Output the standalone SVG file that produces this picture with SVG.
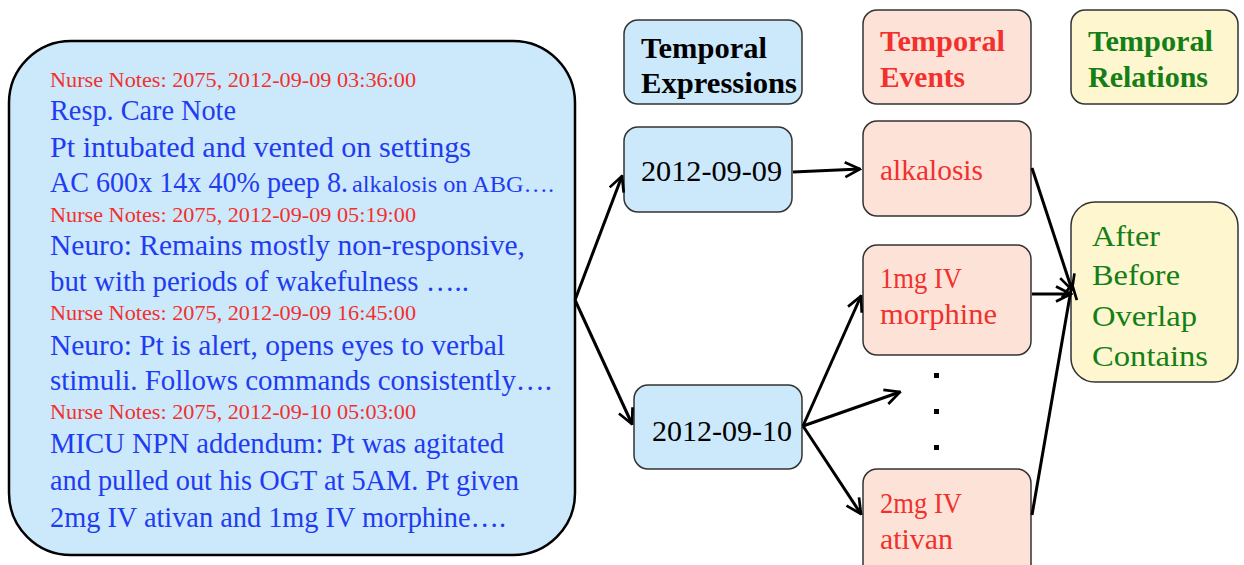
<svg xmlns="http://www.w3.org/2000/svg" width="1244" height="565" viewBox="0 0 1244 565">
  <style>
    .serif { font-family: "Liberation Serif", "DejaVu Serif", serif; }
    .note-head { fill: #f2302d; font-size: 20.5px; }
    .note-body { fill: #1f3cf2; font-size: 28.5px; }
    .note-small { font-size: 23px; }
    .hdr { font-size: 30px; font-weight: bold; }
    .item { font-size: 28.5px; }
    .box { stroke: #333; stroke-width: 1.5; }
    .expr { fill: #cce8fb; }
    .event { fill: #fde3d7; }
    .rel { fill: #fdf6cf; }
    .red { fill: #f2302d; }
    .green { fill: #157f17; }
    .black { fill: #000; }
    .conn { stroke: #000; stroke-width: 3; fill: none; }
  </style>
  <defs>
    <marker id="chev" viewBox="0 0 12 12" refX="11" refY="6" markerWidth="6" markerHeight="6" orient="auto" markerUnits="strokeWidth">
      <path d="M1,1 L11,6 L1,11" fill="none" stroke="#000" stroke-width="1.8"/>
    </marker>
  </defs>

  <!-- nursing notes document -->
  <g id="notes" class="serif">
    <rect x="9" y="41" width="566" height="514" rx="62" fill="#cce8fb" stroke="#000" stroke-width="2.5"/>
    <text class="note-head" x="50" y="87" textLength="366" lengthAdjust="spacingAndGlyphs">Nurse Notes: 2075, 2012-09-09 03:36:00</text>
    <text class="note-body" x="50" y="120" textLength="186" lengthAdjust="spacingAndGlyphs">Resp. Care Note</text>
    <text class="note-body" x="50" y="157" textLength="421" lengthAdjust="spacingAndGlyphs">Pt intubated and vented on settings</text>
    <text class="note-body" x="50" y="192" textLength="298" lengthAdjust="spacingAndGlyphs">AC 600x 14x 40% peep 8.</text>
    <text class="note-body note-small" x="352" y="192" textLength="202" lengthAdjust="spacingAndGlyphs">alkalosis on ABG….</text>
    <text class="note-head" x="50" y="222" textLength="366" lengthAdjust="spacingAndGlyphs">Nurse Notes: 2075, 2012-09-09 05:19:00</text>
    <text class="note-body" x="50" y="255" textLength="475" lengthAdjust="spacingAndGlyphs">Neuro: Remains mostly non-responsive,</text>
    <text class="note-body" x="50" y="291" textLength="419" lengthAdjust="spacingAndGlyphs">but with periods of wakefulness …..</text>
    <text class="note-head" x="50" y="320" textLength="366" lengthAdjust="spacingAndGlyphs">Nurse Notes: 2075, 2012-09-09 16:45:00</text>
    <text class="note-body" x="50" y="355" textLength="455" lengthAdjust="spacingAndGlyphs">Neuro: Pt is alert, opens eyes to verbal</text>
    <text class="note-body" x="50" y="390" textLength="502" lengthAdjust="spacingAndGlyphs">stimuli. Follows commands consistently….</text>
    <text class="note-head" x="50" y="419" textLength="366" lengthAdjust="spacingAndGlyphs">Nurse Notes: 2075, 2012-09-10 05:03:00</text>
    <text class="note-body" x="50" y="453" textLength="454" lengthAdjust="spacingAndGlyphs">MICU NPN addendum: Pt was agitated</text>
    <text class="note-body" x="50" y="490" textLength="469" lengthAdjust="spacingAndGlyphs">and pulled out his OGT at 5AM. Pt given</text>
    <text class="note-body" x="50" y="527" textLength="456" lengthAdjust="spacingAndGlyphs">2mg IV ativan and 1mg IV morphine….</text>
  </g>

  <!-- column headers -->
  <g id="hdr-expressions" class="serif">
    <rect class="box expr" x="624" y="20" width="178" height="84" rx="14"/>
    <text class="hdr black" x="641" y="58" textLength="126" lengthAdjust="spacingAndGlyphs">Temporal</text>
    <text class="hdr black" x="641" y="93" textLength="156" lengthAdjust="spacingAndGlyphs">Expressions</text>
  </g>
  <g id="hdr-events" class="serif">
    <rect class="box event" x="863" y="10" width="168" height="94" rx="14"/>
    <text class="hdr red" x="880" y="51" textLength="125" lengthAdjust="spacingAndGlyphs">Temporal</text>
    <text class="hdr red" x="880" y="87" textLength="85" lengthAdjust="spacingAndGlyphs">Events</text>
  </g>
  <g id="hdr-relations" class="serif">
    <rect class="box rel" x="1071" y="10" width="167" height="94" rx="14"/>
    <text class="hdr green" x="1088" y="51" textLength="125" lengthAdjust="spacingAndGlyphs">Temporal</text>
    <text class="hdr green" x="1088" y="87" textLength="120" lengthAdjust="spacingAndGlyphs">Relations</text>
  </g>

  <!-- temporal expressions -->
  <g id="date-0909" class="serif">
    <rect class="box expr" x="624" y="127" width="168" height="85" rx="14"/>
    <text class="item black" x="641" y="181" textLength="141" lengthAdjust="spacingAndGlyphs">2012-09-09</text>
  </g>
  <g id="date-0910" class="serif">
    <rect class="box expr" x="634" y="385" width="168" height="84" rx="14"/>
    <text class="item black" x="652" y="441" textLength="140" lengthAdjust="spacingAndGlyphs">2012-09-10</text>
  </g>

  <!-- temporal events -->
  <g id="ev-alkalosis" class="serif">
    <rect class="box event" x="863" y="121" width="168" height="95" rx="14"/>
    <text class="item red" x="880" y="180" textLength="103" lengthAdjust="spacingAndGlyphs">alkalosis</text>
  </g>
  <g id="ev-morphine" class="serif">
    <rect class="box event" x="863" y="245" width="168" height="110" rx="14"/>
    <text class="item red" x="880" y="288" textLength="82" lengthAdjust="spacingAndGlyphs">1mg IV</text>
    <text class="item red" x="880" y="324" textLength="117" lengthAdjust="spacingAndGlyphs">morphine</text>
  </g>
  <g id="ev-ativan" class="serif">
    <rect class="box event" x="863" y="469" width="168" height="110" rx="14"/>
    <text class="item red" x="880" y="513" textLength="82" lengthAdjust="spacingAndGlyphs">2mg IV</text>
    <text class="item red" x="880" y="549" textLength="73" lengthAdjust="spacingAndGlyphs">ativan</text>
  </g>
  <g id="ev-more">
    <rect x="934" y="373" width="5" height="5" fill="#000"/>
    <rect x="934" y="409" width="5" height="5" fill="#000"/>
    <rect x="934" y="445" width="5" height="5" fill="#000"/>
  </g>

  <!-- temporal relations -->
  <g id="relations" class="serif">
    <rect class="box rel" x="1071" y="202" width="167" height="180" rx="24"/>
    <text class="item green" x="1092" y="246" textLength="68" lengthAdjust="spacingAndGlyphs">After</text>
    <text class="item green" x="1092" y="285" textLength="88" lengthAdjust="spacingAndGlyphs">Before</text>
    <text class="item green" x="1092" y="326" textLength="105" lengthAdjust="spacingAndGlyphs">Overlap</text>
    <text class="item green" x="1092" y="366" textLength="116" lengthAdjust="spacingAndGlyphs">Contains</text>
  </g>

  <!-- connectors -->
  <g id="connectors">
    <path class="conn" d="M575,300 L622,176" marker-end="url(#chev)"/>
    <path class="conn" d="M575,300 L632,424" marker-end="url(#chev)"/>
    <path class="conn" d="M793,172 L860,169" marker-end="url(#chev)"/>
    <path class="conn" d="M803,426 L861,296" marker-end="url(#chev)"/>
    <path class="conn" d="M803,426 L900,392" marker-end="url(#chev)"/>
    <path class="conn" d="M803,426 L861,514" marker-end="url(#chev)"/>
    <path class="conn" d="M1032,168 L1072,290" marker-end="url(#chev)"/>
    <path class="conn" d="M1032,294 L1071,294" marker-end="url(#chev)"/>
    <path class="conn" d="M1032,515 L1072,284" marker-end="url(#chev)"/>
  </g>
</svg>
